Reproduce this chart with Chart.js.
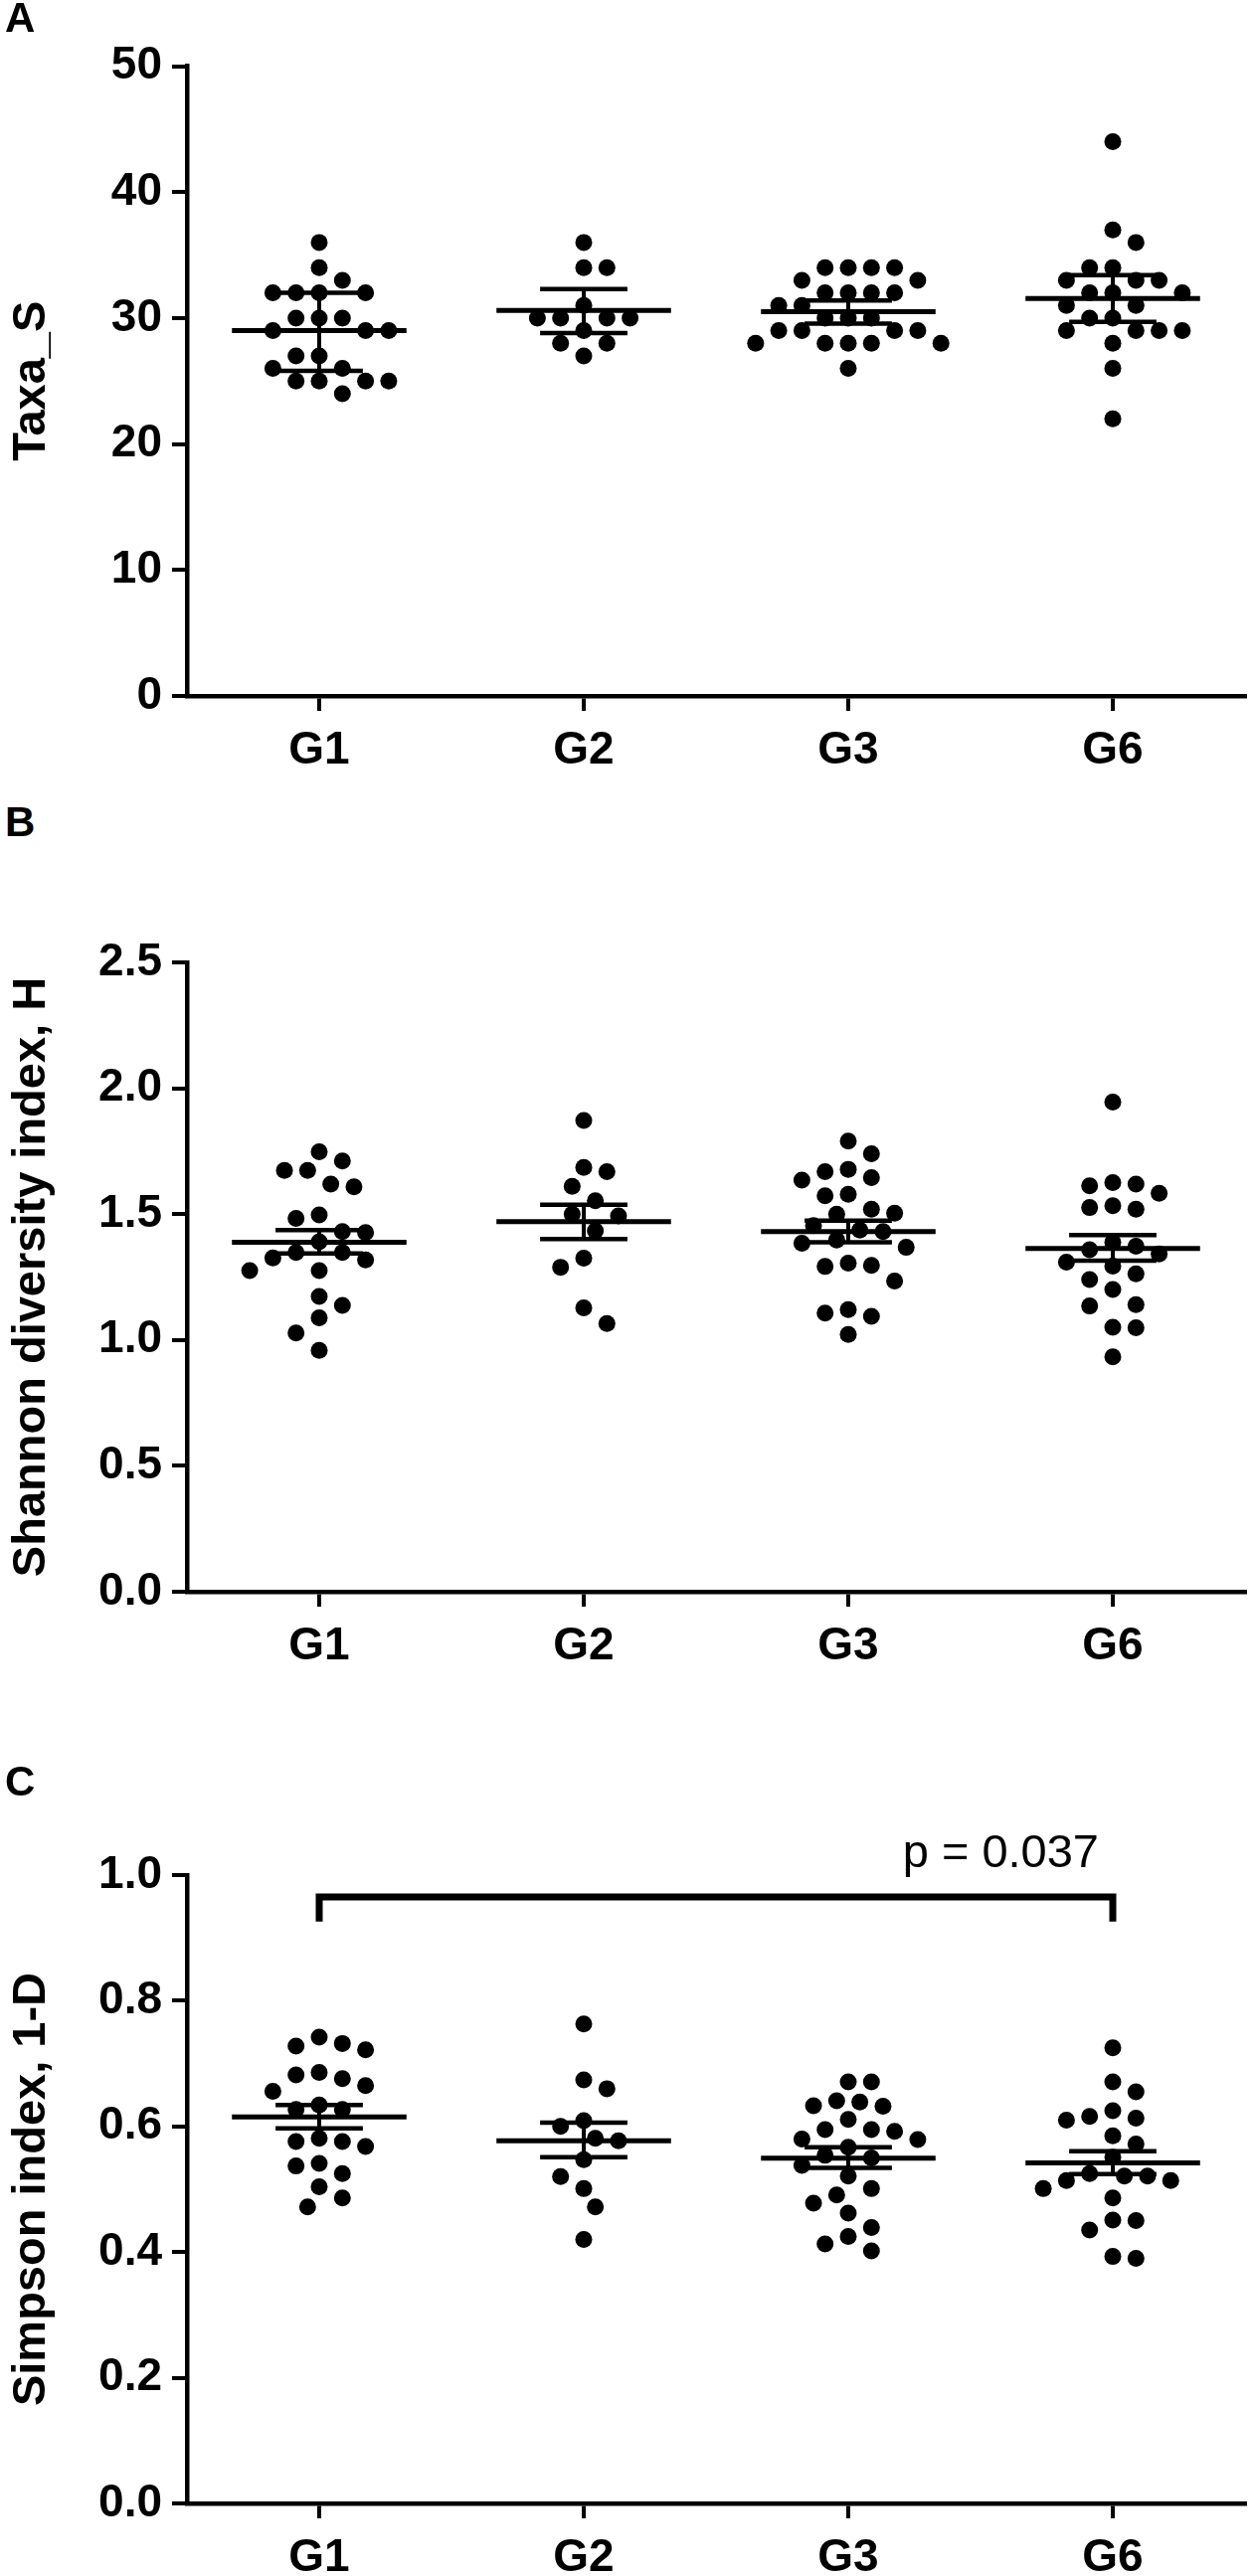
<!DOCTYPE html>
<html lang="en">
<head>
  <meta charset="UTF-8">
  <title>Taxa_S / Shannon / Simpson</title>
  <script src="https://cdn.jsdelivr.net/npm/chart.js"></script>
  <style>
    body { margin: 0; background: #fff; width: 1261px; height: 2591px; position: relative; overflow: hidden; }
    canvas { position: absolute; left: 0; }
    .panel { position: absolute; left: 5px; font: bold 42px 'Liberation Sans', Arial, sans-serif; line-height: 42px; color: #000; }
  </style>
</head>
<body>
  <canvas id="chartA" width="1261" height="800" style="top:0px;width:1261px;height:800px"></canvas>
  <canvas id="chartB" width="1261" height="820" style="top:880px;width:1261px;height:820px"></canvas>
  <canvas id="chartC" width="1261" height="891" style="top:1700px;width:1261px;height:891px"></canvas>
  <div class="panel" style="top:-3px">A</div>
  <div class="panel" style="top:806px">B</div>
  <div class="panel" style="top:1771px">C</div>

<script>
  const groups = ['G1', 'G2', 'G3', 'G6'];

  // A - Taxa_S
  const taxaG1 = [36, 34, 33, 32, 32, 32, 32, 30, 30, 30, 29, 29, 29, 27, 27, 26, 26, 25, 25, 25, 25, 24];
  const taxaG2 = [36, 34, 34, 31, 30, 30, 30, 30, 29, 28, 28, 27];
  const taxaG3 = [34, 34, 34, 34, 33, 33, 32, 32, 32, 32, 31, 31, 30, 30, 30, 29, 29, 29, 29, 28, 28, 28, 28, 28, 26];
  const taxaG6 = [44, 37, 36, 34, 34, 33, 33, 33, 32, 32, 32, 31, 31, 30, 30, 29, 29, 29, 29, 28, 26, 22];
  const taxaMean = [29.0, 30.6, 30.5, 31.55];
  const taxaUpper = [32.0, 32.3, 31.4, 33.4];
  const taxaLower = [25.8, 28.8, 29.55, 29.7];
  const taxaTicks = [0, 10, 20, 30, 40, 50];

  // B - Shannon diversity index, H
  const shannonG1 = [1.748, 1.711, 1.674, 1.674, 1.619, 1.608, 1.497, 1.483, 1.431, 1.427, 1.390, 1.348, 1.348, 1.318, 1.326, 1.276, 1.276, 1.173, 1.137, 1.088, 1.028, 0.959];
  const shannonG2 = [1.872, 1.685, 1.669, 1.610, 1.553, 1.500, 1.493, 1.434, 1.325, 1.289, 1.128, 1.065];
  const shannonG3 = [1.790, 1.740, 1.678, 1.669, 1.645, 1.635, 1.579, 1.573, 1.520, 1.500, 1.504, 1.454, 1.437, 1.431, 1.384, 1.397, 1.368, 1.296, 1.292, 1.305, 1.234, 1.107, 1.121, 1.094, 1.022];
  const shannonG6 = [1.945, 1.625, 1.612, 1.619, 1.583, 1.526, 1.520, 1.533, 1.388, 1.372, 1.359, 1.342, 1.309, 1.293, 1.263, 1.240, 1.201, 1.140, 1.135, 1.051, 1.049, 0.933];
  const shannonMean = [1.388, 1.470, 1.431, 1.364];
  const shannonUpper = [1.437, 1.537, 1.474, 1.417];
  const shannonLower = [1.344, 1.401, 1.388, 1.315];
  const shannonTicks = [0, 0.5, 1.0, 1.5, 2.0, 2.5];

  // C - Simpson index, 1-D
  const simpsonG1 = [0.742, 0.728, 0.722, 0.732, 0.682, 0.686, 0.676, 0.665, 0.656, 0.634, 0.627, 0.627, 0.576, 0.568, 0.576, 0.581, 0.537, 0.541, 0.525, 0.504, 0.486, 0.472];
  const simpsonG2 = [0.763, 0.674, 0.660, 0.609, 0.600, 0.581, 0.577, 0.547, 0.520, 0.501, 0.472, 0.420];
  const simpsonG3 = [0.671, 0.671, 0.639, 0.632, 0.633, 0.641, 0.611, 0.595, 0.592, 0.595, 0.580, 0.579, 0.567, 0.554, 0.550, 0.538, 0.521, 0.501, 0.491, 0.478, 0.462, 0.439, 0.425, 0.413, 0.402];
  const simpsonG6 = [0.725, 0.671, 0.655, 0.625, 0.613, 0.610, 0.616, 0.585, 0.572, 0.551, 0.521, 0.514, 0.525, 0.514, 0.521, 0.501, 0.486, 0.451, 0.450, 0.435, 0.393, 0.390];
  const simpsonMean = [0.615, 0.577, 0.5495, 0.542];
  const simpsonUpper = [0.634, 0.606, 0.567, 0.5605];
  const simpsonLower = [0.597, 0.551, 0.534, 0.524];
  const simpsonTicks = [0, 0.2, 0.4, 0.6, 0.8, 1.0];

  // significance bracket G1 vs G6
  const bracketFrom = 'G1';
  const bracketTo = 'G6';
  const bracketY = [0.926, 0.965];
  const pLabel = 'p = 0.037';

  const FONT = "'Liberation Sans', Arial, sans-serif";
  const black = '#000';

  function seg(points, width) {
    return {
      data: points,
      showLine: true,
      pointRadius: 0,
      borderColor: black,
      borderWidth: width,
      borderCapStyle: 'butt',
      borderJoinStyle: 'miter',
      fill: false,
      order: 0
    };
  }

  // spread points sideways so dots do not overlap (like the column scatter)
  function swarm(values, yScale, step, minDist) {
    const idx = values.map((v, i) => i).sort((a, b) => values[b] - values[a]);
    const placed = [];
    const off = values.map(() => 0);
    idx.forEach((i) => {
      const py = yScale.getPixelForValue(values[i]);
      for (let k = 0; k < 40; k++) {
        let cands = [0];
        if (k > 0) {
          const near = placed.filter(p => Math.abs(p.y - py) < minDist * 2);
          const r = near.filter(p => p.x > 0).length;
          const l = near.filter(p => p.x < 0).length;
          cands = r > l ? [-k, k] : [k, -k];
        }
        const ok = cands.find(c => placed.every(p => Math.hypot(p.x - c * step, p.y - py) >= minDist));
        if (ok !== undefined) {
          off[i] = ok * step;
          placed.push({x: ok * step, y: py});
          break;
        }
      }
    });
    return off;
  }

  function makePanel(id, series, mean, upper, lower, yTicks, decimals, title, padTop, xHeight, extra) {
    const datasets = [];
    groups.forEach((g, i) => {
      const x = i + 1;
      datasets.push(seg([{x: x - 0.33, y: mean[i]}, {x: x + 0.33, y: mean[i]}], 5));
      datasets.push(seg([{x: x, y: lower[i]}, {x: x, y: upper[i]}], 4));
      datasets.push(seg([{x: x - 0.165, y: upper[i]}, {x: x + 0.165, y: upper[i]}], 4.5));
      datasets.push(seg([{x: x - 0.165, y: lower[i]}, {x: x + 0.165, y: lower[i]}], 4.5));
    });
    const dotStart = datasets.length;
    series.forEach((vals, i) => {
      datasets.push({
        data: vals.map(v => ({x: i + 1, y: v})),
        pointRadius: 8.5,
        pointBackgroundColor: black,
        pointBorderWidth: 0,
        showLine: false,
        order: 2
      });
    });
    if (extra) extra.datasets.forEach(d => datasets.push(d));

    const tickStyle = {
      display: true,
      drawOnChartArea: false,
      drawTicks: true,
      tickLength: 15,
      tickWidth: 4,
      tickColor: black,
      color: black,
      lineWidth: 4
    };

    const chart = new Chart(document.getElementById(id), {
      type: 'scatter',
      data: {datasets},
      options: {
        responsive: false,
        animation: false,
        devicePixelRatio: 1,
        layout: {autoPadding: false, padding: {left: 0, right: 9, top: padTop, bottom: 0}},
        plugins: {legend: {display: false}, tooltip: {enabled: false}},
        scales: {
          x: {
            type: 'linear',
            min: 0.5,
            max: 4.5,
            afterBuildTicks: (s) => { s.ticks = groups.map((g, i) => ({value: i + 1})); },
            afterFit: (s) => { s.height = xHeight; },
            ticks: {
              callback: (v, i) => groups[i],
              color: black,
              padding: 13,
              maxRotation: 0,
              font: {family: FONT, size: 46, weight: 'bold'}
            },
            grid: tickStyle,
            border: {display: true, color: black, width: 4.5}
          },
          y: {
            min: yTicks[0],
            max: yTicks[yTicks.length - 1],
            afterBuildTicks: (s) => { s.ticks = yTicks.map(v => ({value: v})); },
            afterFit: (s) => { s.width = 188; },
            ticks: {
              callback: (v) => v.toFixed(decimals),
              color: black,
              padding: 10,
              font: {family: FONT, size: 46, weight: 'bold'}
            },
            grid: tickStyle,
            border: {display: true, color: black, width: 4.5},
            title: {
              display: true,
              text: title,
              color: black,
              padding: {top: 4, bottom: 0},
              font: {family: FONT, size: 47, weight: 'bold'}
            }
          }
        }
      },
      plugins: extra ? [extra.plugin] : []
    });

    // second pass: jitter the dots now that the scales are known
    const xs = chart.scales.x;
    const ys = chart.scales.y;
    const pxPerUnit = xs.getPixelForValue(1) - xs.getPixelForValue(0);
    series.forEach((vals, i) => {
      const off = swarm(vals, ys, 11.65, 21);
      chart.data.datasets[dotStart + i].data = vals.map((v, j) => ({x: i + 1 + off[j] / pxPerUnit, y: v}));
    });
    chart.update('none');
    return chart;
  }

  makePanel('chartA', [taxaG1, taxaG2, taxaG3, taxaG6], taxaMean, taxaUpper, taxaLower,
    taxaTicks, 0, 'Taxa_S', 66.5, 100);

  makePanel('chartB', [shannonG1, shannonG2, shannonG3, shannonG6], shannonMean, shannonUpper, shannonLower,
    shannonTicks, 1, 'Shannon diversity index, H', 88, 99);

  const bx1 = groups.indexOf(bracketFrom) + 1;
  const bx2 = groups.indexOf(bracketTo) + 1;
  const bracket = seg([
    {x: bx1, y: bracketY[0]}, {x: bx1, y: bracketY[1]},
    {x: bx2, y: bracketY[1]}, {x: bx2, y: bracketY[0]}
  ], 7);
  const pText = {
    id: 'pText',
    afterDatasetsDraw(chart) {
      const ctx = chart.ctx;
      const x = chart.scales.x.getPixelForValue(bx2) - 14;
      const y = chart.scales.y.getPixelForValue(bracketY[1]) - 30;
      ctx.save();
      ctx.font = '47px ' + FONT;
      ctx.fillStyle = black;
      ctx.textAlign = 'right';
      ctx.textBaseline = 'alphabetic';
      ctx.fillText(pLabel, x, y);
      ctx.restore();
    }
  };

  makePanel('chartC', [simpsonG1, simpsonG2, simpsonG3, simpsonG6], simpsonMean, simpsonUpper, simpsonLower,
    simpsonTicks, 1, 'Simpson index, 1-D', 186, 73, {datasets: [bracket], plugin: pText});
</script>
</body>
</html>
